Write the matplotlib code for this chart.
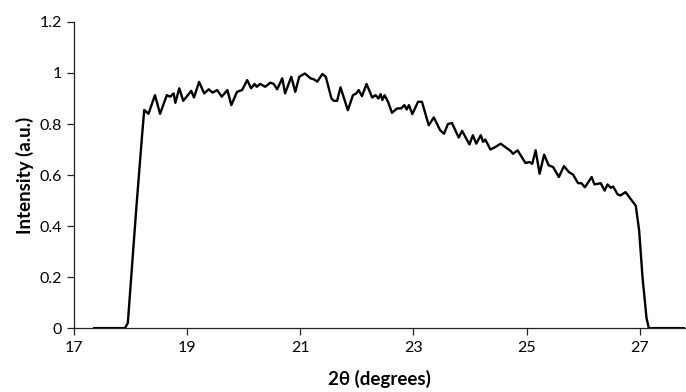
import matplotlib
matplotlib.use("Agg")
import matplotlib.pyplot as plt
from matplotlib.ticker import FuncFormatter

two_theta = [17.35, 17.90, 17.95, 18.00, 18.10, 18.20, 18.24, 18.315, 18.43, 18.52,
             18.64, 18.70, 18.76, 18.79, 18.86, 18.93, 18.99, 19.07, 19.12, 19.21,
             19.30, 19.38, 19.45, 19.53, 19.61, 19.71, 19.78, 19.88, 19.97, 20.06,
             20.13, 20.19, 20.23, 20.29, 20.38, 20.47, 20.53, 20.59, 20.68, 20.73,
             20.84, 20.91, 20.98, 21.08, 21.18, 21.24, 21.30, 21.39, 21.45, 21.55,
             21.59, 21.65, 21.71, 21.84, 21.93, 21.99, 22.03, 22.09, 22.17, 22.27,
             22.33, 22.38, 22.42, 22.45, 22.49, 22.55, 22.62, 22.71, 22.78, 22.84,
             22.88, 22.92, 22.98, 23.08, 23.15, 23.27, 23.36, 23.47, 23.54, 23.61,
             23.68, 23.80, 23.86, 23.99, 24.05, 24.11, 24.19, 24.23, 24.27, 24.36,
             24.45, 24.54, 24.64, 24.72, 24.76, 24.84, 24.98, 25.05, 25.10, 25.16,
             25.23, 25.31, 25.39, 25.47, 25.57, 25.66, 25.75, 25.82, 25.91, 25.97,
             26.03, 26.15, 26.20, 26.31, 26.38, 26.43, 26.49, 26.53, 26.61, 26.66,
             26.75, 26.84, 26.93, 26.99, 27.05, 27.12, 27.16, 27.80]
intensity = [0.0, 0.0, 0.02, 0.17, 0.47, 0.75, 0.855, 0.84, 0.913, 0.84,
             0.913, 0.907, 0.92, 0.883, 0.94, 0.891, 0.907, 0.93, 0.904, 0.965,
             0.92, 0.936, 0.923, 0.933, 0.907, 0.933, 0.874, 0.926, 0.933, 0.972,
             0.94, 0.957, 0.946, 0.957, 0.946, 0.962, 0.957, 0.936, 0.979, 0.92,
             0.985, 0.926, 0.985, 0.998, 0.979, 0.975, 0.966, 0.996, 0.985, 0.90,
             0.891, 0.891, 0.944, 0.854, 0.913, 0.92, 0.933, 0.909, 0.957, 0.904,
             0.913, 0.90, 0.917, 0.894, 0.913, 0.887, 0.844, 0.861, 0.861, 0.874,
             0.857, 0.874, 0.839, 0.887, 0.887, 0.795, 0.826, 0.776, 0.762, 0.80,
             0.804, 0.747, 0.773, 0.72, 0.756, 0.723, 0.756, 0.730, 0.739, 0.70,
             0.71, 0.723, 0.707, 0.694, 0.683, 0.697, 0.647, 0.651, 0.644, 0.697,
             0.605, 0.680, 0.638, 0.631, 0.592, 0.635, 0.611, 0.602, 0.568, 0.568,
             0.552, 0.592, 0.563, 0.568, 0.539, 0.563, 0.55, 0.555, 0.524, 0.52,
             0.533, 0.506, 0.48, 0.382, 0.198, 0.04, 0.0, 0.0]

x_ticks = [17, 19, 21, 23, 25, 27]
y_ticks = [0, 0.2, 0.4, 0.6, 0.8, 1.0, 1.2]

plt.rcParams['font.family'] = ['Lato', 'DejaVu Sans']

fig = plt.figure(figsize=(6.86, 3.92), dpi=100)
ax = fig.add_axes([0.108, 0.163, 0.8905, 0.781])

ax.plot(two_theta, intensity, color='black', linewidth=1.7,
        solid_joinstyle='round', solid_capstyle='round')

ax.set_xlim(17, 27.8)
ax.set_ylim(0, 1.2)
ax.set_xticks(x_ticks)
ax.set_yticks(y_ticks)
ax.yaxis.set_major_formatter(FuncFormatter(lambda v, p: '%g' % v))

for side in ['top', 'right']:
    ax.spines[side].set_visible(False)
for side in ['left', 'bottom']:
    ax.spines[side].set_color('#222222')
    ax.spines[side].set_linewidth(0.9)
ax.tick_params(direction='out', length=5, width=0.9, color='#222222',
               labelsize=11.5, pad=4)

ax.set_xlabel('2θ (degrees)', fontsize=13.5, fontweight='bold', labelpad=11)
ax.set_ylabel('Intensity (a.u.)', fontsize=13.5, fontweight='bold', labelpad=4)

fig.savefig('out.png', dpi=100)
